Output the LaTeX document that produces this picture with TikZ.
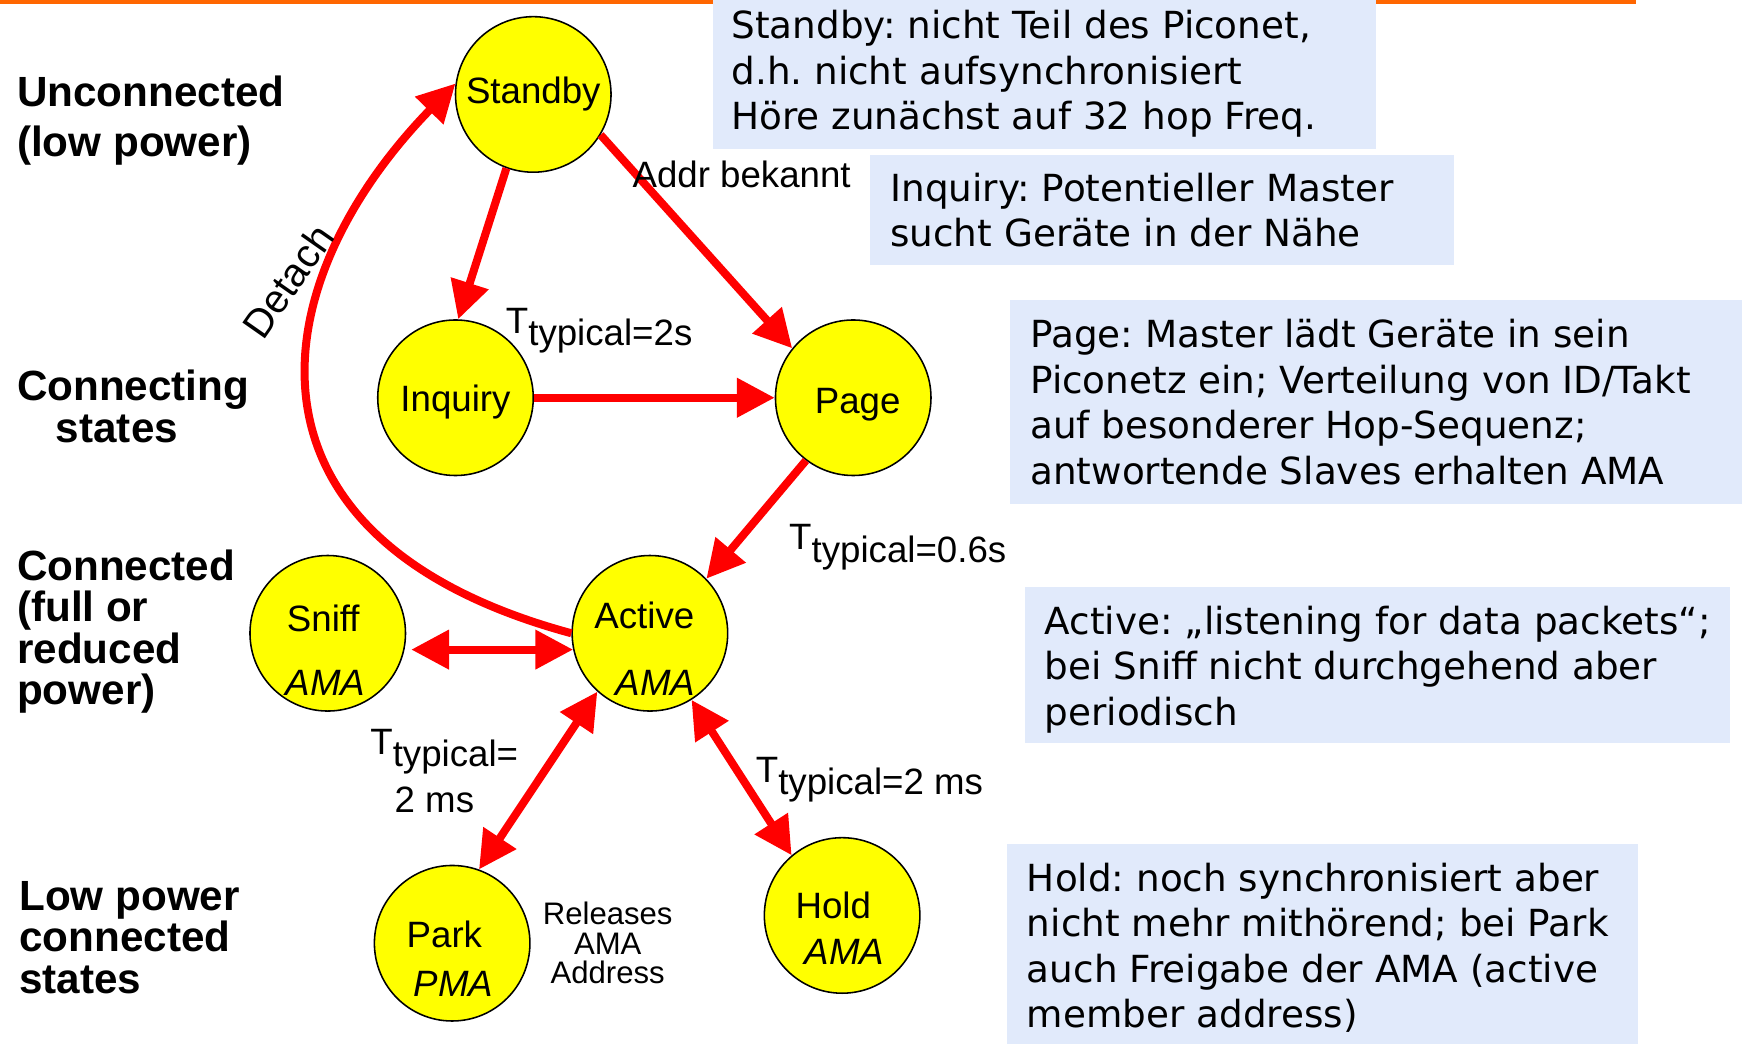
\documentclass[tikz,border=0pt]{standalone}
\usepackage{fontspec}
\setmainfont{Liberation Sans}
\newfontfamily\notefont{DejaVu Sans}
\usetikzlibrary{arrows.meta}

\definecolor{notebg}{RGB}{225,234,251}
\definecolor{stateyellow}{RGB}{255,255,0}
\definecolor{arrowred}{RGB}{255,0,0}
\definecolor{toporange}{RGB}{255,102,0}

% T with a lowered index set at full size
\newcommand\Ttyp[1]{T\raisebox{-5.5pt}{#1}}

\begin{document}
\frenchspacing
\begin{tikzpicture}[x=0.5pt,y=-0.5pt,
  state/.style={circle, draw=black, line width=0.7pt, fill=stateyellow,
    minimum size=70pt, inner sep=0pt},
  statetext/.style={font=\fontsize{16.5pt}{19pt}\selectfont, inner sep=0pt},
  amatext/.style={font=\fontsize{16.5pt}{19pt}\selectfont\itshape, inner sep=0pt},
  notebox/.style={fill=notebg, inner sep=0pt, anchor=north west},
  % multi-line notes are placed by the baseline of their last line
  notetext/.style={font=\notefont\fontsize{16.8pt}{20.5pt}\selectfont,
    align=left, anchor=base west, inner sep=0pt},
  level/.style={font=\bfseries\fontsize{19pt}{18.6pt}\selectfont,
    align=left, anchor=base west, inner sep=0pt},
  edgelabel/.style={font=\fontsize{16.5pt}{19pt}\selectfont, inner sep=0pt, anchor=base west},
  trans/.style={draw=arrowred, line width=3.6pt, -{Triangle[length=17pt,width=17pt]}},
  twoway/.style={draw=arrowred, line width=3.6pt,
    {Triangle[length=17pt,width=17pt]}-{Triangle[length=17pt,width=17pt]}},
]
\useasboundingbox (0,0) rectangle (1568,939);

% orange rule along the top edge
\fill[toporange] (0,0) rectangle (1473,3.5);

% explanatory notes
\node[notebox, minimum width=298.5pt, minimum height=67pt] (nstandby) at (641,0) {};
\node[notetext] (tstandby) at (658,117)
  {Standby: nicht Teil des Piconet,\\d.h. nicht aufsynchronisiert\\Höre zunächst auf 32 hop Freq.};

\node[notebox, minimum width=262.5pt, minimum height=49.5pt] (ninquiry) at (783,139) {};
\node[notetext] (tinquiry) at (801,222)
  {Inquiry: Potentieller Master\\sucht Geräte in der Nähe};

\node[notebox, minimum width=329.5pt, minimum height=91.5pt] (npage) at (909,270) {};
\node[notetext] (tpage) at (927,436)
  {Page: Master lädt Geräte in sein\\Piconetz ein; Verteilung von ID/Takt\\auf besonderer Hop-Sequenz;\\antwortende Slaves erhalten AMA};

\node[notebox, minimum width=317.5pt, minimum height=70pt] (nactive) at (922,528) {};
\node[notetext] (tactive) at (940,653)
  {Active: „listening for data packets“;\\bei Sniff nicht durchgehend aber\\periodisch};

\node[notebox, minimum width=284pt, minimum height=90pt] (nhold) at (906,759) {};
\node[notetext] (thold) at (924,925)
  {Hold: noch synchronisiert aber\\nicht mehr mithörend; bei Park\\auch Freigabe der AMA (active\\member address)};

% power levels on the left
\node[level, font=\bfseries\fontsize{19pt}{22.5pt}\selectfont] (lunconn) at (15,141)
  {Unconnected\\(low power)};
\node[level] (lconnecting) at (15,398) {Connecting\\\hspace*{17.5pt}states};
\node[level] (lconnected) at (15,634) {Connected\\(full or\\reduced\\power)};
\node[level] (llow) at (17,894) {Low power\\connected\\states};

% states
\node[state] (standby) at (480,85) {};
\node[state] (inquiry) at (410,358) {};
\node[state] (page)    at (768,358) {};
\node[state] (sniff)   at (295,570) {};
\node[state] (active)  at (585,570) {};
\node[state] (park)    at (407,849) {};
\node[state] (hold)    at (758,824) {};

\node[statetext] (standbyname) at (480,85) {Standby};
\node[statetext] (inquiryname) at (410,362) {Inquiry};
\node[statetext] (pagename)    at (772,364) {Page};
\node[statetext] (sniffname)   at (291,557) {Sniff};
\node[amatext]   (sniffaddr)   at (293,615) {AMA};
\node[statetext] (activename)  at (580,554) {Active};
\node[amatext]   (activeaddr)  at (590,615) {AMA};
\node[statetext] (parkname)    at (400,841) {Park};
\node[amatext]   (parkaddr)    at (408,886) {PMA};
\node[statetext] (holdname)    at (750,815) {Hold};
\node[amatext]   (holdaddr)    at (760,857) {AMA};

% transitions
\draw[trans] (standby.250) -- (inquiry.88);
\draw[trans] (standby.329) -- (page.141);
\draw[trans] (inquiry.east) -- (page.west);
\draw[trans] (page.233) -- (active.44);
\draw[trans] (active.180) .. controls (200,485) and (235,255) .. (standby.172);
\draw[twoway, shorten <=3pt] (sniff.-12) -- (active.192);
\draw[twoway] (active.228) -- (park.70);
\draw[twoway] (active.302) -- (hold.130);

% transition labels
\node[edgelabel] (laddr) at (569,169) {Addr bekannt};
\node[edgelabel] (linq) at (455,300) {\Ttyp{typical=2s}};
\node[edgelabel] (lpage) at (710,495) {\Ttyp{typical=0.6s}};
\node[edgelabel] (lpark) at (333,679) {\Ttyp{typical=}};
\node[edgelabel, anchor=base] (lparkval) at (391,731) {2 ms};
\node[edgelabel] (lhold) at (680,704) {\Ttyp{typical=2 ms}};
\node[statetext, font=\fontsize{18pt}{20pt}\selectfont, rotate=55] (ldetach) at (259,253) {Detach};
\node[font=\fontsize{14pt}{13.3pt}\selectfont, align=center, inner sep=0pt] (lrelease)
  at (547,849) {Releases\\AMA\\Address};
\end{tikzpicture}
\end{document}
